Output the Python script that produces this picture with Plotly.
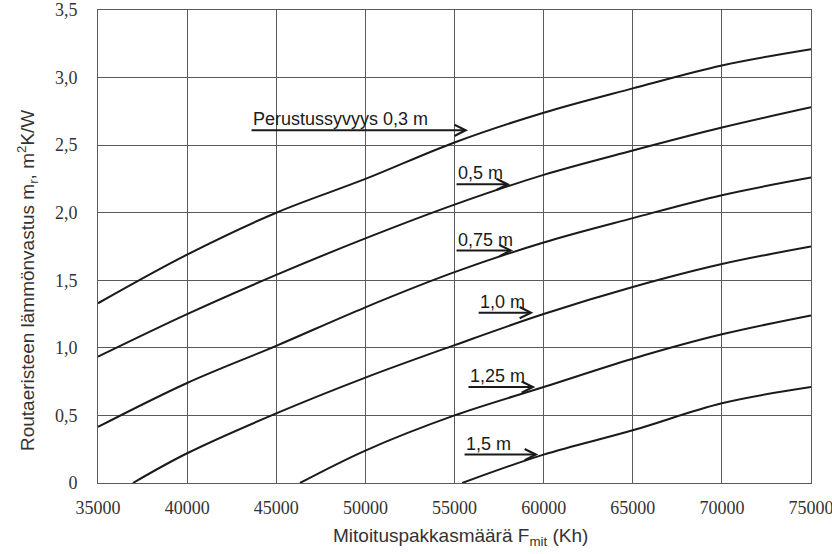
import plotly.graph_objects as go

# Design frost index F_mit (Kh) on the x axis
x_ticks = [35000, 40000, 45000, 50000, 55000, 60000, 65000, 70000, 75000]
y_ticks = [0, 0.5, 1.0, 1.5, 2.0, 2.5, 3.0, 3.5]
y_tick_text = ["0", "0,5", "1,0", "1,5", "2,0", "2,5", "3,0", "3,5"]

# Required thermal resistance of frost insulation per foundation depth
x_03 = [35000, 40000, 45000, 50000, 55000, 60000, 65000, 70000, 75000]
r_03 = [1.33, 1.69, 2.00, 2.25, 2.52, 2.74, 2.92, 3.09, 3.21]

x_05 = [35000, 40000, 45000, 50000, 55000, 60000, 65000, 70000, 75000]
r_05 = [0.935, 1.25, 1.54, 1.81, 2.06, 2.28, 2.46, 2.63, 2.78]

x_075 = [35000, 40000, 45000, 50000, 55000, 60000, 65000, 70000, 75000]
r_075 = [0.415, 0.74, 1.015, 1.30, 1.56, 1.78, 1.96, 2.13, 2.26]

x_10 = [36960, 40000, 45000, 50000, 55000, 60000, 65000, 70000, 75000]
r_10 = [0.0, 0.22, 0.515, 0.78, 1.02, 1.25, 1.45, 1.62, 1.75]

x_125 = [46330, 50000, 55000, 60000, 65000, 70000, 75000]
r_125 = [0.0, 0.24, 0.50, 0.71, 0.92, 1.10, 1.24]

x_15 = [55430, 60000, 65000, 70000, 75000]
r_15 = [0.0, 0.21, 0.39, 0.59, 0.71]

curves = [(x_03, r_03), (x_05, r_05), (x_075, r_075),
          (x_10, r_10), (x_125, r_125), (x_15, r_15)]

# Curve labels: text, arrow tail x, arrow head x, arrow height
label_text = ["Perustussyvyys 0,3 m", "0,5 m", "0,75 m", "1,0 m", "1,25 m", "1,5 m"]
label_x0 = [43530, 55030, 55030, 56270, 55700, 55480]
label_x1 = [55760, 58120, 58290, 59420, 59530, 59700]
label_y = [2.61, 2.21, 1.72, 1.26, 0.71, 0.21]

ink = "#1a1a1a"
text_col = "#333333"
sans = "Liberation Sans, Arial"
serif = "Liberation Serif, Times New Roman"

fig = go.Figure()
for xs, ys in curves:
    fig.add_trace(go.Scatter(
        x=xs, y=ys, mode="lines",
        line=dict(color=ink, width=2, shape="spline", smoothing=1.0),
        showlegend=False, hoverinfo="skip"))

annotations = []
for txt, xa, xb, yv in zip(label_text, label_x0, label_x1, label_y):
    annotations.append(dict(
        x=xb, y=yv, ax=xa, ay=yv, xref="x", yref="y", axref="x", ayref="y",
        showarrow=True, arrowhead=5, arrowsize=1.1, arrowwidth=2,
        arrowcolor=ink, text=""))
    annotations.append(dict(
        x=xa, y=yv, xref="x", yref="y", xanchor="left", yanchor="bottom",
        xshift=1, yshift=-1, showarrow=False, text=txt,
        font=dict(family=sans, size=18, color=ink)))

# Axis titles
annotations.append(dict(
    x=0.5, y=-0.115, xref="paper", yref="paper", xanchor="center", yanchor="middle",
    xshift=6, showarrow=False,
    text="Mitoituspakkasmäärä F<sub>mit</sub> (Kh)",
    font=dict(family=sans, size=19, color=text_col)))
annotations.append(dict(
    x=0, y=0.427, xref="paper", yref="paper", xanchor="center", yanchor="middle",
    xshift=-71, showarrow=False, textangle=-90,
    text="Routaeristeen lämmönvastus m<sub>r</sub>, m<sup>2</sup>K/W",
    font=dict(family=sans, size=19, color=text_col)))

fig.update_layout(
    width=832, height=554,
    margin=dict(l=98, r=21, t=10, b=71),
    paper_bgcolor="white", plot_bgcolor="white",
    annotations=annotations,
)
fig.update_xaxes(
    range=[35000, 75000], tickvals=x_ticks, ticktext=[str(v) for v in x_ticks],
    showgrid=True, gridcolor="#5a5a5a", gridwidth=1,
    showline=True, linecolor="#5a5a5a", linewidth=1, mirror=True,
    zeroline=False, ticks="", ticklabelstandoff=8, ticklabeloverflow="allow",
    automargin=False,
    tickfont=dict(family=serif, size=18, color=text_col))
fig.update_yaxes(
    range=[0, 3.5], tickvals=y_ticks, ticktext=y_tick_text,
    showgrid=True, gridcolor="#5a5a5a", gridwidth=1,
    showline=True, linecolor="#5a5a5a", linewidth=1, mirror=True,
    zeroline=False, ticks="", ticklabelstandoff=16, automargin=False,
    tickfont=dict(family=serif, size=18, color=text_col))

fig.write_html("out.html")
